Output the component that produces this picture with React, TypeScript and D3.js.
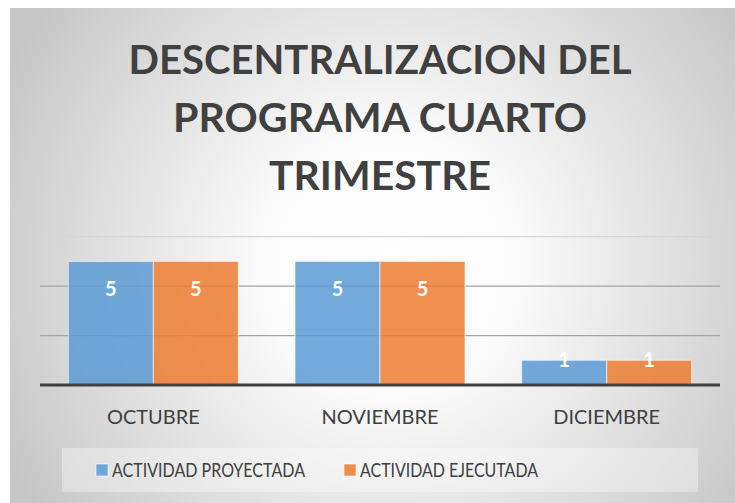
import React, { useEffect, useRef } from "react";
import * as d3 from "d3";

const categories = ["OCTUBRE", "NOVIEMBRE", "DICIEMBRE"];
const seriesNames = ["ACTIVIDAD PROYECTADA", "ACTIVIDAD EJECUTADA"];
const proyectada = [5, 5, 1];
const ejecutada = [5, 5, 1];
const gridTicks = [2, 4, 6];
const titleLines = ["DESCENTRALIZACION DEL", "PROGRAMA CUARTO", "TRIMESTRE"];
const colors = ["#5b9bd5", "#ed7d31"];

const App = () => {
  const svgRef = useRef<SVGSVGElement>(null);

  useEffect(() => {
    const width = 735;
    const height = 503;
    const plotLeft = 40;
    const plotRight = 720;
    const plotBottom = 385;
    const plotTop = 236.7;
    const font = "Lato, 'Open Sans', sans-serif";

    const svg = d3.select(svgRef.current);
    svg.selectAll("*").remove();
    svg.attr("width", width).attr("height", height);

    // background gradient like the office chart area
    const defs = svg.append("defs");
    const grad = defs
      .append("radialGradient")
      .attr("id", "bg")
      .attr("gradientUnits", "userSpaceOnUse")
      .attr("cx", 390)
      .attr("cy", 265)
      .attr("r", 430);
    grad.append("stop").attr("offset", 0).attr("stop-color", "#ffffff");
    grad.append("stop").attr("offset", 0.3).attr("stop-color", "#fbfbfb");
    grad.append("stop").attr("offset", 1).attr("stop-color", "#c6c6c6");

    svg
      .append("rect")
      .attr("x", 10)
      .attr("y", 8)
      .attr("width", width)
      .attr("height", height)
      .attr("fill", "url(#bg)");

    // title
    svg
      .append("g")
      .selectAll("text")
      .data(titleLines)
      .join("text")
      .attr("x", 380)
      .attr("y", (d, i) => 73.5 + i * 58.3)
      .attr("text-anchor", "middle")
      .attr("fill", "#404040")
      .style("font-family", font)
      .style("font-weight", 700)
      .style("font-size", "40px")
      .attr("textLength", (d, i) => [503, 414, 222][i])
      .attr("lengthAdjust", "spacingAndGlyphs")
      .text((d) => d);

    const x0 = d3
      .scaleBand()
      .domain(categories)
      .range([plotLeft, plotRight])
      .paddingInner(0.25)
      .paddingOuter(0.125);
    const x1 = d3
      .scaleBand()
      .domain(seriesNames)
      .range([0, x0.bandwidth()]);
    const y = d3.scaleLinear().domain([0, 6]).range([plotBottom, plotTop]);

    // gridlines
    svg
      .append("g")
      .selectAll("line")
      .data(gridTicks)
      .join("line")
      .attr("x1", plotLeft)
      .attr("x2", plotRight)
      .attr("y1", (d) => y(d))
      .attr("y2", (d) => y(d))
      .attr("stroke", (d) => (d === 6 ? "#d6d6d6" : "#a3a3a3"))
      .attr("stroke-width", 1.3);

    const rows = categories.map((c, i) => ({
      cat: c,
      vals: [proyectada[i], ejecutada[i]],
    }));

    const groups = svg
      .append("g")
      .selectAll("g")
      .data(rows)
      .join("g")
      .attr("transform", (d) => `translate(${x0(d.cat)},0)`);

    groups
      .selectAll("rect")
      .data((d) => d.vals.map((v, j) => ({ v, j })))
      .join("rect")
      .attr("x", (d) => x1(seriesNames[d.j]))
      .attr("y", (d) => y(d.v))
      .attr("width", x1.bandwidth())
      .attr("height", (d) => plotBottom - y(d.v))
      .attr("fill", (d) => colors[d.j])
      .attr("fill-opacity", 0.85)
      .attr("stroke", "#ffffff")
      .attr("stroke-opacity", 0.6)
      .attr("stroke-width", 1);

    // data labels (inside end)
    groups
      .selectAll("text")
      .data((d) => d.vals.map((v, j) => ({ v, j })))
      .join("text")
      .attr("x", (d) => x1(seriesNames[d.j]) + x1.bandwidth() / 2)
      .attr("y", (d) => Math.min(y(d.v) + 35, plotBottom - 18))
      .attr("text-anchor", "middle")
      .attr("fill", "#ffffff")
      .style("font-family", font)
      .style("font-weight", 700)
      .style("font-size", "20px")
      .text((d) => d.v);

    // baseline
    svg
      .append("line")
      .attr("x1", plotLeft)
      .attr("x2", plotRight)
      .attr("y1", plotBottom)
      .attr("y2", plotBottom)
      .attr("stroke", "#404040")
      .attr("stroke-width", 3);

    // category labels
    svg
      .append("g")
      .selectAll("text")
      .data(categories)
      .join("text")
      .attr("x", (d) => x0(d) + x0.bandwidth() / 2)
      .attr("y", 424)
      .attr("text-anchor", "middle")
      .attr("fill", "#404040")
      .style("font-family", font)
      .style("font-size", "20px")
      .text((d) => d);

    // legend
    const legend = svg.append("g");
    legend
      .append("rect")
      .attr("x", 62)
      .attr("y", 448)
      .attr("width", 636)
      .attr("height", 44)
      .attr("fill", "#ffffff")
      .attr("fill-opacity", 0.35);
    const legendX = [96, 344];
    const items = legend
      .selectAll("g")
      .data(seriesNames)
      .join("g")
      .attr("transform", (d, i) => `translate(${legendX[i]},0)`);
    items
      .append("rect")
      .attr("x", 0)
      .attr("y", 464)
      .attr("width", 12)
      .attr("height", 12)
      .attr("fill", (d, i) => colors[i])
      .attr("fill-opacity", 0.85)
      .attr("stroke", "#ffffff")
      .attr("stroke-opacity", 0.6);
    items
      .append("text")
      .attr("x", 16)
      .attr("y", 476.5)
      .attr("fill", "#404040")
      .style("font-family", font)
      .style("font-size", "19px")
      .attr("textLength", (d, i) => [193, 178][i])
      .attr("lengthAdjust", "spacingAndGlyphs")
      .text((d) => d);
  }, []);

  return (
    <svg
      ref={svgRef}
      style={{ position: "absolute", left: 0, top: 0, display: "block" }}
    />
  );
};

export default App;
